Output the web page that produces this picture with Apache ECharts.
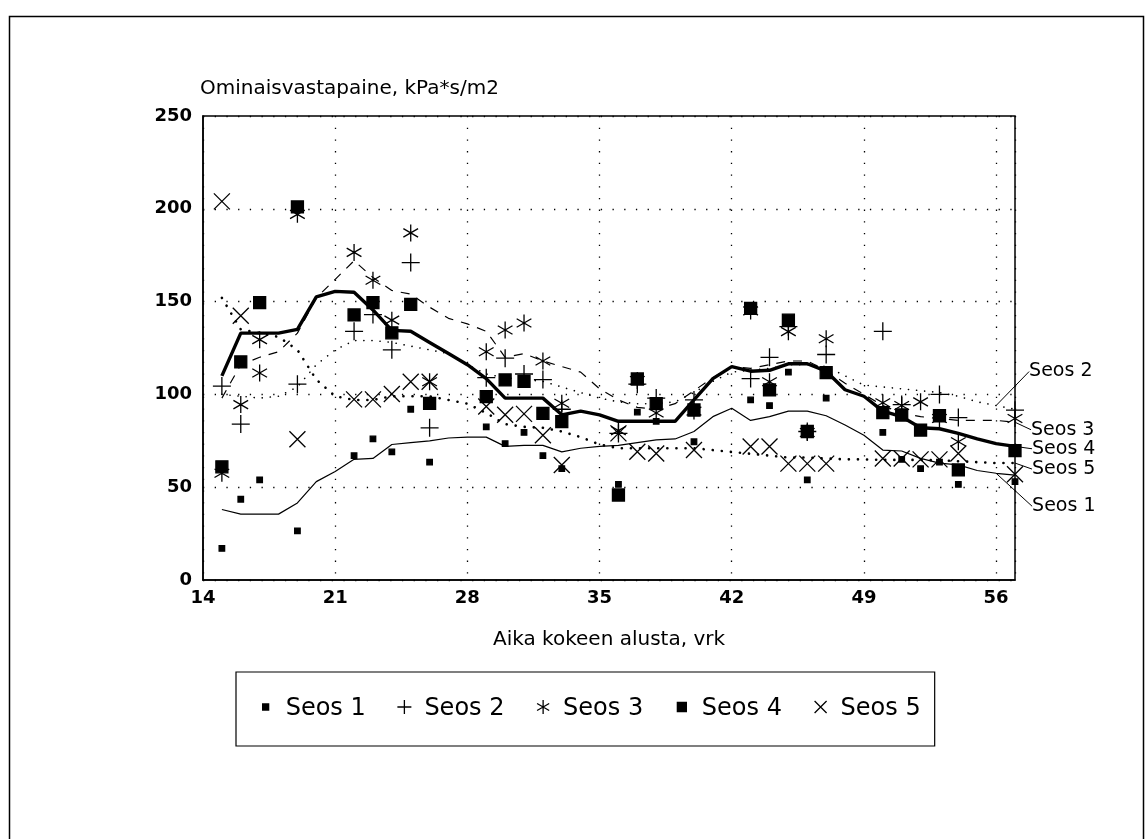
<!DOCTYPE html>
<html>
<head>
<meta charset="utf-8">
<title>Ominaisvastapaine</title>
<script src="https://cdn.jsdelivr.net/npm/echarts@6.0.0/dist/echarts.min.js"></script>
<style>
  html, body { margin: 0; padding: 0; background: #fff; }
  #chart { width: 1148px; height: 839px; }
</style>
</head>
<body>
<div id="chart"></div>
<script>
// mittauspäivät (vrk kokeen alusta) ja arvot, kPa*s/m2
const seos1Days = [15, 16, 17, 19, 22, 23, 24, 25, 26, 29, 30, 31, 32, 33, 36, 37, 38, 40, 43, 44, 45, 46, 47, 50, 51, 52, 53, 54, 57]
const seos1Values = [17, 43.5, 54, 26.5, 67, 76, 69, 92, 63.5, 82.5, 73.5, 79.5, 67, 60, 51.5, 90.5, 85.5, 74.5, 97, 94, 112, 54, 98, 79.5, 65, 60, 63.5, 51.5, 53]

const seos2Days = [15, 16, 19, 22, 23, 24, 25, 26, 29, 30, 31, 32, 33, 36, 37, 38, 40, 43, 44, 45, 46, 47, 50, 51, 53, 54, 57]
const seos2Values = [104.5, 84, 105.5, 134, 143, 124, 171, 82, 109, 119.5, 111, 108, 92, 79, 105.5, 98, 97, 108.5, 120, 136.5, 80, 121.5, 134, 94.5, 100, 87.5, 91.5]

const seos3Days = [15, 16, 17, 17, 19, 22, 23, 24, 25, 26, 29, 30, 31, 32, 33, 36, 37, 38, 40, 43, 44, 45, 46, 47, 50, 51, 52, 53, 54, 57]
const seos3Values = [57.5, 94.5, 129.5, 111.5, 197, 176.5, 161.5, 140, 187, 106.8, 123, 134.7, 138.5, 118, 95.2, 80.5, 107.5, 90, 91, 145, 106.8, 133.8, 79.5, 130, 95.5, 94, 96, 87, 74.5, 87]

const seos4Days = [15, 16, 17, 19, 22, 23, 24, 25, 26, 29, 30, 31, 32, 33, 36, 37, 38, 40, 43, 44, 45, 46, 47, 50, 51, 52, 53, 54, 57]
const seos4Values = [61, 117.5, 149.5, 201, 142.8, 149.4, 133.2, 148.5, 95.2, 98.8, 107.8, 107, 89.8, 85.3, 45.8, 108.3, 95, 91.6, 146.4, 102.4, 140, 80, 111.7, 90.2, 88.9, 80.8, 88.5, 59.3, 69.7]

const seos5Days = [15, 16, 19, 22, 23, 24, 25, 26, 29, 30, 31, 32, 33, 36, 37, 38, 40, 43, 44, 45, 46, 47, 50, 51, 52, 53, 54, 57]
const seos5Values = [204, 142.4, 75.8, 97.3, 97.3, 100.2, 106.8, 106.8, 93.5, 89, 89.5, 78, 62, 79, 69.1, 68.2, 70, 71.9, 71.9, 62.7, 62.7, 62.7, 65.5, 65.5, 65, 65, 68.2, 57]

// tasoitetut käyrät, luettu kuvasta päivittäin
const curveDays = [15, 16, 17, 18, 19, 20, 21, 22, 23, 24, 25, 26, 27, 28, 29, 30, 31, 32, 33, 34, 35, 36,
  37, 38, 39, 40, 41, 42, 43, 44, 45, 46, 47, 48, 49, 50, 51, 52, 53, 54, 55, 56, 57]
const seos1Curve = [38, 35.5, 35.5, 35.5, 41.5, 53, 58.5, 65, 65.5, 73, 74, 75, 76.5, 77, 77, 72, 72.5, 72.5, 69, 71, 72, 72.5,
  74, 75.5, 76, 80, 88, 92.5, 86, 88, 91, 91, 88.5, 83.5, 78, 70, 69.5, 65.5, 63, 62, 59, 57.5, 56.5]
const seos2Curve = [100, 99, 98, 99, 104, 116, 124, 129, 129, 128, 126, 124, 122, 116, 111, 109, 108, 107, 104, 101, 98, 96,
  95, 95, 96, 101, 107, 112, 113, 114, 116, 116, 115, 110, 105, 104, 103, 102, 101, 99, 96, 94, 92]
const seos3Curve = [98, 116, 120, 123, 133, 152, 162, 172, 163, 156, 154, 147, 141, 138, 134, 120, 122, 118, 115, 112, 103, 97,
  93, 92, 95, 102, 109, 115, 114, 116, 118, 118, 113, 106, 100, 94, 90, 88, 87, 86, 86, 86, 85]
const seos4Curve = [110, 133, 133, 133, 135, 152.5, 155.5, 155, 145.5, 134.5, 134, 128, 122, 116, 108.5, 98, 98, 98, 89, 91, 89, 85.5,
  85.5, 85.5, 85.5, 97, 108.5, 115, 112.5, 113, 116.5, 116.5, 112.5, 102.5, 99, 91, 88, 82, 81.5, 79, 76, 73.5, 72]
const seos5Curve = [152, 135, 133, 131, 124, 108, 99, 97, 97, 99, 99, 99, 97, 95, 90, 84, 82.5, 82, 80, 77, 73, 71,
  71, 71, 71, 71, 70, 69, 68, 67, 66, 66, 65.5, 65, 65, 64.7, 64.7, 64.7, 64.5, 64, 63.5, 63, 63]

const FONT = 'DejaVu Sans'

// merkit
const PLUS = 'path://M0,5L10,5M5,0L5,10'
const CROSS = 'path://M0,0L10,10M10,0L0,10'
const STAR = 'path://M0,5M10,5M5,0L5,10M0.67,2.5L9.33,7.5M0.67,7.5L9.33,2.5'

// selitteen ikonit 30x20 laatikossa
const legendIcons = {
  'Seos 1': 'path://M0,0M30,20M12,5L18,5L18,11L12,11Z',
  'Seos 2': 'path://M0,0M30,20M8,8L22,8M15,1L15,15',
  'Seos 3': 'path://M0,0M30,20M15,1L15,15M8.94,4.5L21.06,11.5M8.94,11.5L21.06,4.5',
  'Seos 4': 'path://M0,0M30,20M10.5,3.5L19.5,3.5L19.5,12.5L10.5,12.5Z',
  'Seos 5': 'path://M0,0M30,20M9,2L21,14M21,2L9,14'
}

function points(days, values) {
  return days.map((d, i) => [d, values[i]])
}

function markers(name, days, values, symbol, size) {
  return {
    type: 'scatter',
    name: name,
    data: points(days, values),
    symbol: symbol,
    symbolSize: size,
    itemStyle: { color: '#000', borderColor: '#000', borderWidth: 1.3, opacity: 1 },
    z: 3
  }
}

function curve(name, values, lineStyle, labelDay, dx, dy) {
  const data = curveDays.map((d, i) => {
    if (d === labelDay) {
      return {
        value: [d, values[i]],
        label: { show: true, formatter: name },
        labelLine: { show: true }
      }
    }
    return [d, values[i]]
  })
  return {
    type: 'line',
    name: name + ' käyrä',
    data: data,
    showSymbol: true,
    symbol: 'circle',
    symbolSize: 0.01,
    silent: true,
    z: 2,
    lineStyle: Object.assign({ color: '#000' }, lineStyle),
    label: {
      show: false,
      position: 'right',
      distance: 5,
      color: '#000',
      fontSize: 19,
      fontFamily: FONT
    },
    labelLine: { show: false, lineStyle: { color: '#000', width: 1 } },
    labelLayout: { dx: dx, dy: dy }
  }
}

const chart = echarts.init(document.getElementById('chart'), null, { renderer: 'canvas' })

chart.setOption({
  animation: false,
  backgroundColor: '#fff',
  title: {
    text: 'Ominaisvastapaine, kPa*s/m2',
    left: 195,
    top: 74,
    textStyle: { fontFamily: FONT, fontSize: 20, fontWeight: 'normal', color: '#000' }
  },
  grid: {
    left: 203,
    top: 116,
    width: 812,
    height: 464,
    show: true,
    borderColor: '#000',
    borderWidth: 1.5
  },
  legend: {
    data: ['Seos 1', 'Seos 2', 'Seos 3', 'Seos 4', 'Seos 5'].map(n => ({ name: n, icon: legendIcons[n] })),
    left: 236,
    top: 672,
    padding: [25, 14],
    itemGap: 23,
    itemWidth: 30,
    itemHeight: 20,
    selectedMode: false,
    borderColor: '#000',
    borderWidth: 1.2,
    itemStyle: { color: '#000', borderColor: '#000', borderWidth: 1.3, opacity: 1 },
    textStyle: { fontFamily: FONT, fontSize: 24, color: '#000' }
  },
  xAxis: {
    type: 'value',
    min: 14,
    max: 57,
    interval: 7,
    name: 'Aika kokeen alusta, vrk',
    nameLocation: 'middle',
    nameGap: 50,
    nameTextStyle: { fontFamily: FONT, fontSize: 20, color: '#000' },
    axisLine: { lineStyle: { color: '#000', width: 1.5 } },
    axisTick: { show: false },
    axisLabel: { showMaxLabel: false, margin: 9, fontFamily: FONT, fontSize: 18, fontWeight: 'bold', color: '#000' },
    splitLine: { show: true, lineStyle: { color: '#000', width: 1.3, type: [1.3, 10.4] } }
  },
  yAxis: {
    type: 'value',
    min: 0,
    max: 250,
    interval: 50,
    axisLine: { show: true, lineStyle: { color: '#000', width: 1.5 } },
    axisTick: { show: false },
    axisLabel: { margin: 11, fontFamily: FONT, fontSize: 18, fontWeight: 'bold', color: '#000' },
    splitLine: { show: true, lineStyle: { color: '#000', width: 1.3, type: [1.3, 10.4] } }
  },
  graphic: [{
    type: 'rect',
    left: 7,
    top: 14,
    shape: { width: 1134, height: 840 },
    style: { fill: 'none', stroke: '#000', lineWidth: 1.5 },
    silent: true
  }],
  series: [
    curve('Seos 1', seos1Curve, { width: 1.2 }, 56, 31, 33),
    curve('Seos 2', seos2Curve, { width: 1.6, type: [0.1, 8], cap: 'round' }, 56, 28, -34),
    curve('Seos 3', seos3Curve, { width: 1.2, type: [9, 8] }, 57, 11, 7.5),
    curve('Seos 4', seos4Curve, { width: 3.4 }, 57, 12, 2.4),
    curve('Seos 5', seos5Curve, { width: 2.6, type: [0.1, 9], cap: 'round' }, 57, 12, 6),
    markers('Seos 1', seos1Days, seos1Values, 'rect', 5.5),
    markers('Seos 2', seos2Days, seos2Values, PLUS, 18),
    markers('Seos 3', seos3Days, seos3Values, STAR, 17),
    markers('Seos 4', seos4Days, seos4Values, 'rect', 12),
    markers('Seos 5', seos5Days, seos5Values, CROSS, 16)
  ]
})
</script>
</body>
</html>
